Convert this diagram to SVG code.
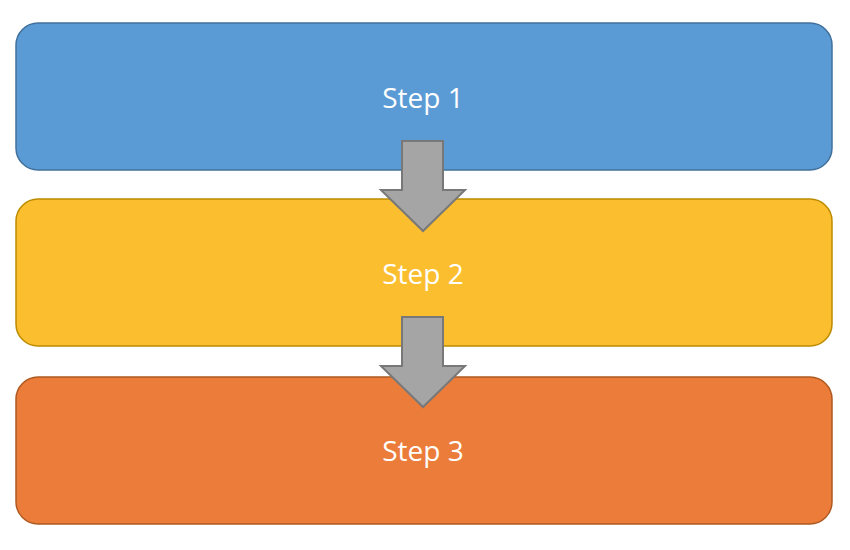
<svg xmlns="http://www.w3.org/2000/svg" width="850" height="550" viewBox="0 0 850 550">
<style>
.box{stroke-width:1.5}
.lbl{font-family:"Open Sans","Liberation Sans",sans-serif;font-size:28px;fill:#fff;text-anchor:middle}
.arr{fill:#A5A5A5;stroke:#787878;stroke-width:2;stroke-linejoin:miter}
</style>
<rect width="850" height="550" fill="#fff"/>
<g id="step1"><rect class="box" x="16" y="23" width="816" height="147" rx="22" fill="#5B9BD5" stroke="#41719C"/><text class="lbl" x="423" y="108">Step 1</text></g>
<g id="step2"><rect class="box" x="16" y="199" width="816" height="147" rx="22" fill="#FBBE2E" stroke="#BC8C00"/><text class="lbl" x="423" y="284">Step 2</text></g>
<g id="step3"><rect class="box" x="16" y="377" width="816" height="147" rx="22" fill="#EB7C3A" stroke="#AE5A21"/><text class="lbl" x="423" y="461">Step 3</text></g>
<g id="connectors">
<polygon class="arr" points="402,141 443,141 443,190 465,190 423,231 381,190 402,190"/>
<polygon class="arr" points="402,317 443,317 443,366 465,366 423,407 381,366 402,366"/>
</g>
</svg>
